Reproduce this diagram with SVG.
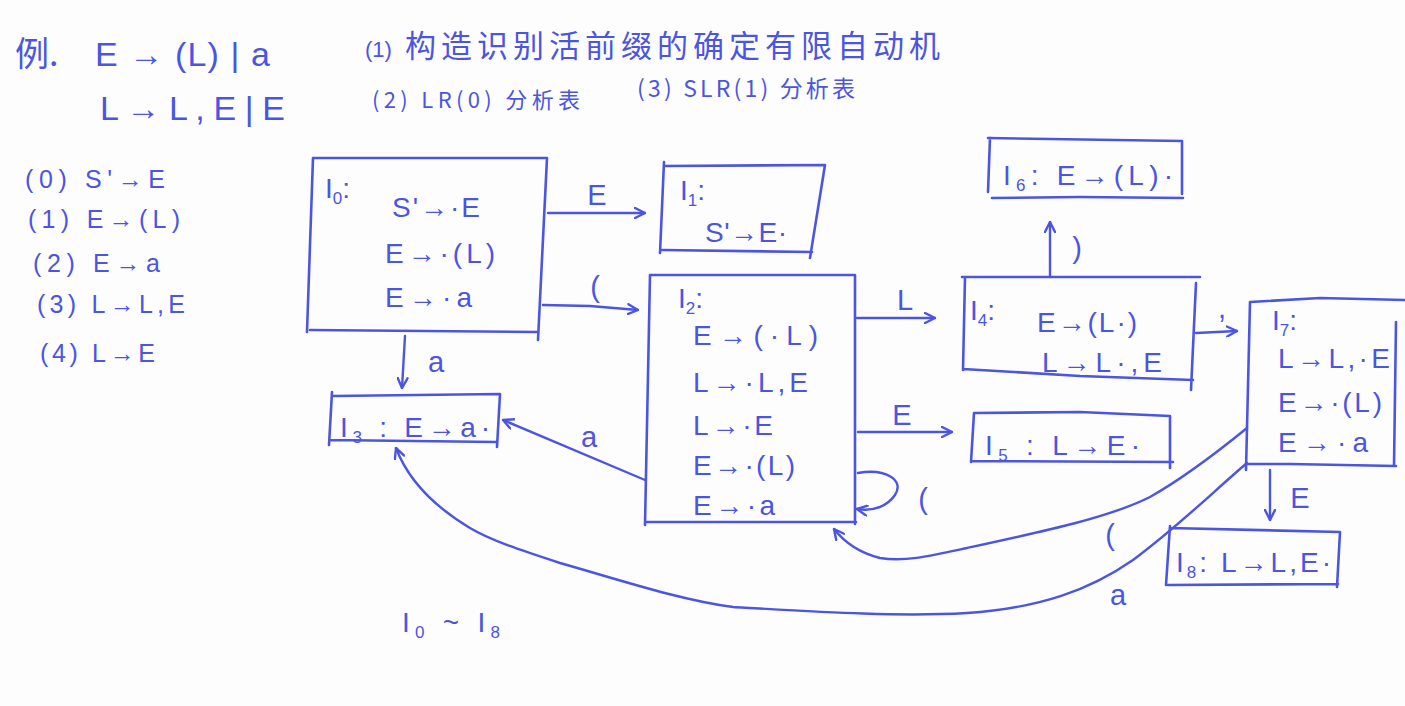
<svg xmlns="http://www.w3.org/2000/svg" width="1405" height="706" viewBox="0 0 1405 706">
<defs>
<marker id="ah" viewBox="0 0 12 12" refX="11" refY="6" markerWidth="12" markerHeight="12" markerUnits="userSpaceOnUse" orient="auto">
<path d="M1,1 L11,6 L1,11" fill="none" stroke="#4b55e1" stroke-width="2.4" stroke-linecap="round" stroke-linejoin="round"/>
</marker>
<style>
.box{fill:none;stroke:#4b55e1;stroke-width:2.6;stroke-linecap:round;stroke-linejoin:round}
.edge{fill:none;stroke:#4b55e1;stroke-width:2.4;stroke-linecap:round;marker-end:url(#ah)}
text{fill:#4b55e1;font-family:"Liberation Sans","DejaVu Sans","Noto Sans CJK SC",sans-serif}
.t{font-size:28px}
.lb{font-size:29px;text-anchor:middle}
.h{font-size:34px}
.s{font-size:17px}
.cn{font-family:"Noto Sans CJK SC","Liberation Sans",sans-serif}
</style>
</defs>
<rect width="1405" height="706" fill="#fdfdfd"/>

<g id="header">
<text class="h cn" x="15" y="66" font-size="36">例.</text>
<text class="h" x="95" y="66" textLength="175" lengthAdjust="spacing">E → (L) | a</text>
<text class="h" x="100" y="120" textLength="185" lengthAdjust="spacing">L → L , E | E</text>
<text x="365" y="57" font-size="22">(1)</text>
<text class="cn" x="405" y="57" font-size="31" textLength="535" lengthAdjust="spacing">构造识别活前缀的确定有限自动机</text>
<text class="cn" x="372" y="108" font-size="22" textLength="208" lengthAdjust="spacing">(2) LR(0) 分析表</text>
<text class="cn" x="637" y="97" font-size="23" textLength="218" lengthAdjust="spacing">(3) SLR(1) 分析表</text>
</g>

<g id="productions">
<text x="25" y="188" font-size="25" textLength="140" lengthAdjust="spacing">(0) S'→E</text>
<text x="28" y="228" font-size="25" textLength="152" lengthAdjust="spacing">(1) E→(L)</text>
<text x="33" y="272" font-size="25" textLength="127" lengthAdjust="spacing">(2) E→a</text>
<text x="37" y="313" font-size="25" textLength="148" lengthAdjust="spacing">(3) L→L,E</text>
<text x="40" y="362" font-size="25" textLength="115" lengthAdjust="spacing">(4) L→E</text>
</g>

<g id="I0">
<path class="box" d="M313,158 L547,158 L538,340 M538,332 L310,330 M313,158 L307,332"/>
<text class="t" x="325" y="198">I<tspan class="s" dy="6">0</tspan><tspan dy="-6">:</tspan></text>
<text class="t" x="392" y="217" textLength="88" lengthAdjust="spacing">S'→·E</text>
<text class="t" x="385" y="263" textLength="110" lengthAdjust="spacing">E→·(L)</text>
<text class="t" x="385" y="307" textLength="87" lengthAdjust="spacing">E→·a</text>
</g>

<g id="I1">
<path class="box" d="M665,166 L825,165 L810,258 M812,252 L662,250 M664,162 L660,253"/>
<text class="t" x="680" y="200">I<tspan class="s" dy="6">1</tspan><tspan dy="-6">:</tspan></text>
<text class="t" x="705" y="242" textLength="82" lengthAdjust="spacing">S'→E·</text>
</g>

<g id="I2">
<path class="box" d="M650,275 L855,275 L855,524 M856,522 L645,522 M650,275 L645,525"/>
<text class="t" x="678" y="308">I<tspan class="s" dy="6">2</tspan><tspan dy="-6">:</tspan></text>
<text class="t" x="693" y="345" textLength="125" lengthAdjust="spacing">E→(·L)</text>
<text class="t" x="693" y="392" textLength="115" lengthAdjust="spacing">L→·L,E</text>
<text class="t" x="693" y="435" textLength="80" lengthAdjust="spacing">L→·E</text>
<text class="t" x="693" y="475" textLength="102" lengthAdjust="spacing">E→·(L)</text>
<text class="t" x="693" y="515" textLength="82" lengthAdjust="spacing">E→·a</text>
</g>

<g id="I3">
<path class="box" d="M333,396 L500,394 L497,447 M496,442 L330,440 M332,392 L329,445"/>
<text class="t" x="340" y="437" textLength="150" lengthAdjust="spacing">I<tspan class="s" dy="6">3</tspan><tspan dy="-6"> : E→a·</tspan></text>
</g>

<g id="I4">
<path class="box" d="M962,277 L1200,277 M1196,283 L1191,390 M1193,380 L1080,376 L963,369 M965,277 L963,370"/>
<text class="t" x="970" y="320">I<tspan class="s" dy="6">4</tspan><tspan dy="-6">:</tspan></text>
<text class="t" x="1037" y="332" textLength="100" lengthAdjust="spacing">E→(L·)</text>
<text class="t" x="1042" y="372" textLength="120" lengthAdjust="spacing">L→L·,E</text>
</g>

<g id="I5">
<path class="box" d="M974,413 L1080,412 L1170,416 L1170,468 M1173,462 L971,461 M974,413 L971,462"/>
<text class="t" x="985" y="455" textLength="155" lengthAdjust="spacing">I<tspan class="s" dy="6">5</tspan><tspan dy="-6"> : L→E·</tspan></text>
</g>

<g id="I6">
<path class="box" d="M988,138 L1182,141 L1182,194 M1183,198 L1080,197 L992,198 M990,138 L988,192"/>
<text class="t" x="1003" y="185" textLength="170" lengthAdjust="spacing">I<tspan class="s" dy="6">6</tspan><tspan dy="-6">: E→(L)·</tspan></text>
</g>

<g id="I7">
<path class="box" d="M1250,302 L1320,298 L1405,300 M1396,322 L1394,466 M1396,466 L1290,464 L1247,464 M1250,302 L1246,470"/>
<text class="t" x="1272" y="330">I<tspan class="s" dy="6">7</tspan><tspan dy="-6">:</tspan></text>
<text class="t" x="1278" y="368" textLength="112" lengthAdjust="spacing">L→L,·E</text>
<text class="t" x="1278" y="412" textLength="104" lengthAdjust="spacing">E→·(L)</text>
<text class="t" x="1278" y="452" textLength="90" lengthAdjust="spacing">E→·a</text>
</g>

<g id="I8">
<path class="box" d="M1170,528 L1340,532 L1337,587 M1338,584 L1168,585 M1170,526 L1166,585"/>
<text class="t" x="1176" y="572" textLength="155" lengthAdjust="spacing">I<tspan class="s" dy="6">8</tspan><tspan dy="-6">: L→L,E·</tspan></text>
</g>

<g id="note">
<text class="t" x="402" y="632" textLength="98" lengthAdjust="spacing">I<tspan class="s" dy="6">0</tspan><tspan dy="-6"> ~ I</tspan><tspan class="s" dy="6">8</tspan></text>
</g>

<g id="connectors">
<path class="edge" d="M548,213 L645,213"/>
<path class="edge" d="M543,305 L590,306 L638,310"/>
<path class="edge" d="M405,336 L402,388"/>
<path class="edge" d="M645,480 L503,420"/>
<path class="edge" d="M857,318 L935,318"/>
<path class="edge" d="M858,432 L952,432"/>
<path class="edge" d="M858,473 C885,468 905,480 895,495 C888,505 875,512 857,509"/>
<path class="edge" d="M1050,277 L1050,222"/>
<path class="edge" d="M1196,333 L1237,331"/>
<path class="edge" d="M1270,470 L1270,520"/>
<path class="edge" d="M1247,428 C1220,450 1180,480 1150,497 C1110,517 1050,530 967,548 C930,556 905,562 880,558 C860,553 845,543 834,529"/>
<path class="edge" d="M1247,463 C1215,490 1180,525 1133,560 C1090,590 1040,608 967,613 C900,617 820,612 733,607 C680,600 620,580 560,563 C520,550 490,540 470,528 C440,510 410,485 396,448"/>
<text class="lb" x="597" y="205">E</text>
<text class="lb" x="595" y="297">(</text>
<text class="lb" x="436" y="372">a</text>
<text class="lb" x="589" y="447">a</text>
<text class="lb" x="905" y="310">L</text>
<text class="lb" x="902" y="425">E</text>
<text class="lb" x="923" y="509">(</text>
<text class="lb" x="1077" y="258">)</text>
<text class="lb" x="1222" y="318">,</text>
<text class="lb" x="1300" y="508">E</text>
<text class="lb" x="1110" y="545">(</text>
<text class="lb" x="1118" y="605">a</text>
</g>
</svg>
